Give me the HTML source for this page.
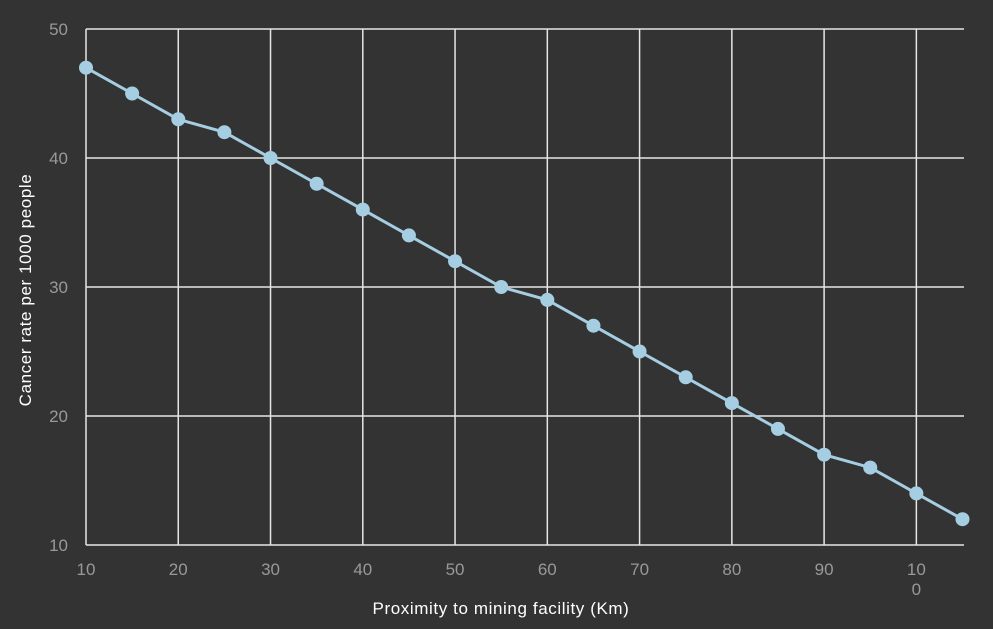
<!DOCTYPE html>
<html><head><meta charset="utf-8"><style>
html,body{margin:0;padding:0;background:#333333;}
svg{display:block;font-family:"Liberation Sans",sans-serif;}
</style></head><body>
<svg id="chart" width="993" height="629" viewBox="0 0 993 629">
<rect width="993" height="629" fill="#333333"/>
<g id="grid"></g><g id="axes"></g><g id="series"></g>
<text x="501" y="614" fill="#ffffff" font-size="17" letter-spacing="0.6" text-anchor="middle">Proximity to mining facility (Km)</text>
<text transform="translate(31,290) rotate(-90)" fill="#ffffff" font-size="17" letter-spacing="0.6" text-anchor="middle">Cancer rate per 1000 people</text>
</svg>
<script>
const categories=[10,15,20,25,30,35,40,45,50,55,60,65,70,75,80,85,90,95,100,105];
const values=[47,45,43,42,40,38,36,34,32,30,29,27,25,23,21,19,17,16,14,12];
const xTicks=[10,20,30,40,50,60,70,80,90,100];
const yTicks=[10,20,30,40,50];
const NS="http://www.w3.org/2000/svg";
const x0=86,x1=962.5,y0=545,y1=29;
function xs(v){return x0+(v-10)/(105-10)*(x1-x0);}
function ys(v){return y0-(v-10)/(50-10)*(y0-y1);}
function mk(t,a,p){const e=document.createElementNS(NS,t);for(const k in a)e.setAttribute(k,a[k]);p.appendChild(e);return e;}
const grid=document.getElementById('grid'),axes=document.getElementById('axes'),ser=document.getElementById('series');
yTicks.forEach(v=>{
 const l=mk('line',{x1:x0,x2:964,y1:ys(v),y2:ys(v),stroke:'#e6e6e6','stroke-width':1.5},grid);
 
 
 const t=mk('text',{x:68,y:ys(v)+6,fill:'#999999','font-size':17,'text-anchor':'end'},axes);
 t.textContent=v;
 
 
});
xTicks.forEach(v=>{
 const l=mk('line',{x1:xs(v),x2:xs(v),y1:y1,y2:y0,stroke:'#e6e6e6','stroke-width':1.5},grid);
 
 
 const s=String(v);
 const t=mk('text',{x:xs(v),y:575,fill:'#999999','font-size':17,'text-anchor':'middle'},axes);
 
 
 if(s.length>2){
  mk('tspan',{x:xs(v),dy:0},t).textContent=s.slice(0,2);
  mk('tspan',{x:xs(v),dy:20},t).textContent=s.slice(2);
 } else t.textContent=s;
});
const d=categories.map((c,i)=>(i?'L':'M')+xs(c)+','+ys(values[i])).join(' ');
const p=mk('path',{d:d,fill:'none',stroke:'#a6cee3','stroke-width':3},ser);


categories.forEach((c,i)=>{
 const m=mk('circle',{cx:xs(c),cy:ys(values[i]),r:7,fill:'#a6cee3'},ser);
 
 
});
</script>
</body></html>
